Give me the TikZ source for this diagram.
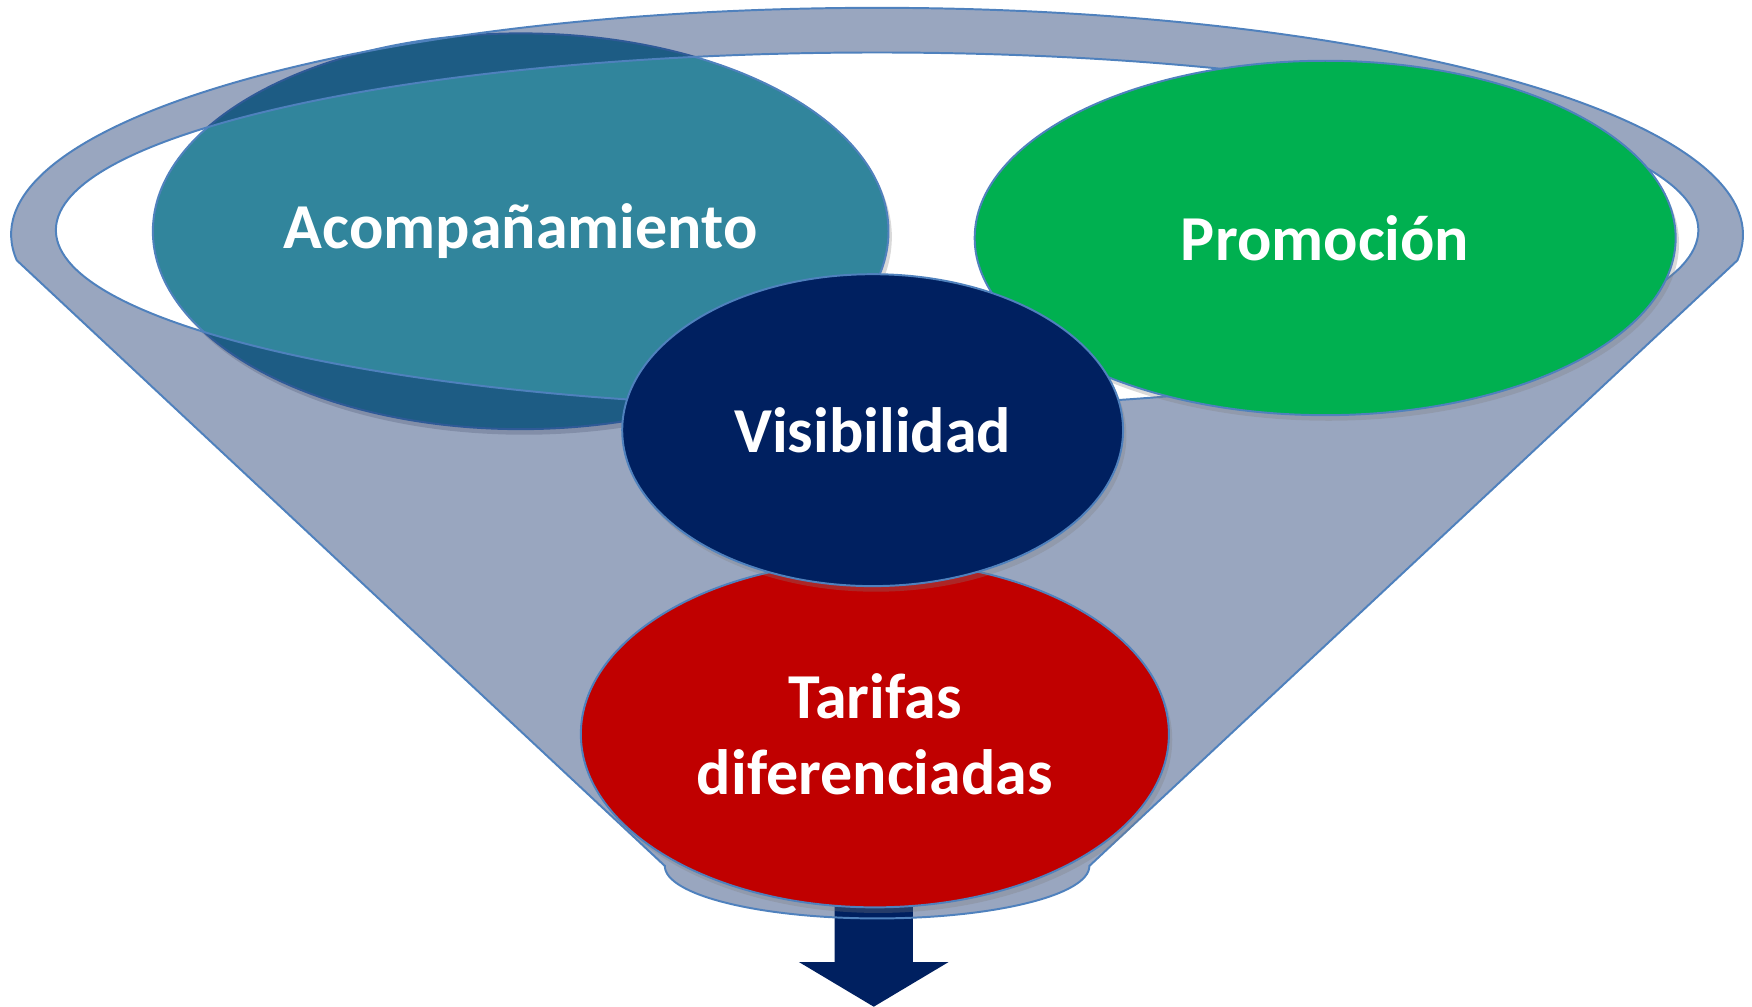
\documentclass[tikz,border=0pt]{standalone}
\usepackage{fontspec}
\setmainfont{Carlito}
\usepackage{tikz}
\usetikzlibrary{shapes.geometric,shadows}
\definecolor{navy}{HTML}{002060}
\definecolor{teal}{HTML}{31859C}
\definecolor{grass}{HTML}{00B050}
\definecolor{wine}{HTML}{C00000}
\definecolor{edge}{HTML}{4F81BD}
\tikzset{blob/.style={ellipse, draw=edge, line width=0.5pt, inner sep=0pt,
  text=white, align=center, font=\bfseries\fontsize{16.3}{19.3}\selectfont,
  drop shadow={shadow xshift=0.03cm, shadow yshift=-0.05cm, opacity=0.3}}}

\begin{document}
\begin{tikzpicture}[x=0.01cm,y=0.01cm]
\useasboundingbox (0,0) rectangle (1568,901);
\fill[navy] (747,110) -- (747,40) -- (715,40) -- (782,0) -- (849,40) -- (817,40) -- (817,110) -- cycle;
\node[blob, fill=teal, minimum width=6.58cm, minimum height=3.54cm] (acomp) at (466,694) {Acompañamiento};
% funnel with its open top
\draw[edge, line width=0.5pt, fill=navy, fill opacity=0.4, even odd rule]
  (15,668) arc[start angle=186.5, end angle=-6.5, x radius=775, y radius=203]
  -- (975,126) arc[start angle=0, end angle=-180, x radius=190, y radius=47] -- cycle
  (785,695) ellipse [x radius=735, y radius=159];
\node[blob, fill=grass, minimum width=6.27cm, minimum height=3.17cm] (promo) at (1186,688) {Promoción};
\node[blob, fill=wine, minimum width=5.26cm, minimum height=3.10cm] (tarif) at (783,244) {Tarifas\\diferenciadas};
\node[blob, fill=navy, minimum width=4.48cm, minimum height=2.79cm] (visib) at (781,516) {Visibilidad};
\end{tikzpicture}
\end{document}
